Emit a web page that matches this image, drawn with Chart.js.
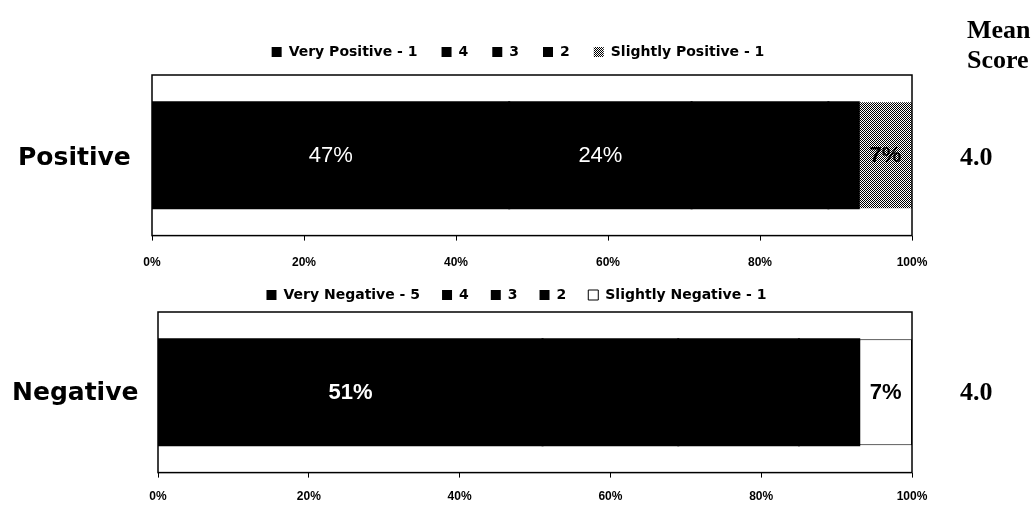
<!DOCTYPE html>
<html lang="en">
  <head>
    <meta charset="UTF-8" />
    <title>Positive / Negative</title>
    <script src="https://cdn.jsdelivr.net/npm/chart.js"></script>
    <style>
      body { margin: 0; background: #fff; width: 1031px; height: 506px; position: relative; overflow: hidden; }
      .wrap { position: absolute; left: 0; width: 1031px; }
      .rowName { position: absolute; font: bold 25px "DejaVu Sans"; color: #000; height: 30px; line-height: 30px; white-space: nowrap; }
      .score { position: absolute; font: bold 26px "Liberation Serif"; color: #000; line-height: 30px; white-space: nowrap; }
    </style>
  </head>
  <body>
    <div class="wrap" style="top: 0; height: 291px"><canvas id="posChart"></canvas></div>
    <div class="wrap" style="top: 250px; height: 270px"><canvas id="negChart"></canvas></div>
    <div class="score" id="meanTitle" style="left: 967px; top: 15px"></div>
    <div class="rowName" id="name0" style="left: 18px; top: 142px"></div>
    <div class="rowName" id="name1" style="left: 12px; top: 377px"></div>
    <div class="score" id="score0" style="left: 960px; top: 142px"></div>
    <div class="score" id="score1" style="left: 960px; top: 377px"></div>

    <script>
      // data
      const rowNames = ["Positive", "Negative"];
      const meanScores = [4.0, 4.0];
      const posCategories = ["Very Positive - 1", "4", "3", "2", "Slightly Positive - 1"];
      const posValues = [47, 24, 18, 4, 7];
      const negCategories = ["Very Negative - 5", "4", "3", "2", "Slightly Negative - 1"];
      const negValues = [51, 18, 16, 8, 7];
      const xTicks = [0, 20, 40, 60, 80, 100];

      document.getElementById("meanTitle").innerHTML = "Mean<br>Score";
      rowNames.forEach((n, i) => {
        document.getElementById("name" + i).textContent = n;
        document.getElementById("score" + i).textContent = meanScores[i].toFixed(1);
      });

      // grainy fill like the scanned "slightly positive" segment
      function dither() {
        const c = document.createElement("canvas");
        c.width = 4;
        c.height = 4;
        const g = c.getContext("2d");
        g.fillStyle = "#fff";
        g.fillRect(0, 0, 4, 4);
        g.fillStyle = "#000";
        for (let y = 0; y < 4; y++)
          for (let x = 0; x < 4; x++) if ((x + y) % 2 === 0) g.fillRect(x, y, 1, 1);
        return g.createPattern(c, "repeat");
      }

      // box round the plot area
      const frame = {
        id: "frame",
        afterDraw(chart) {
          const a = chart.chartArea, ctx = chart.ctx;
          ctx.save();
          ctx.strokeStyle = "#000";
          ctx.lineWidth = 1.5;
          ctx.strokeRect(a.left, a.top, a.right - a.left, a.bottom - a.top);
          ctx.restore();
        },
      };

      // lift the legend a little higher than chart.js puts it
      const legendLift = {
        id: "legendLift",
        afterLayout(chart, args, opts) {
          const lg = chart.legend;
          if (!lg || !opts.by) return;
          lg.top -= opts.by;
          lg.bottom -= opts.by;
        },
      };

      // percent labels: white on the big black pieces, black on the last one
      const barLabels = {
        id: "barLabels",
        afterDatasetsDraw(chart, args, opts) {
          const ctx = chart.ctx;
          const last = chart.data.datasets.length - 1;
          chart.data.datasets.forEach((ds, i) => {
            const v = ds.data[0];
            if (v < 20 && i !== last) return;
            const bar = chart.getDatasetMeta(i).data[0];
            ctx.save();
            ctx.fillStyle = i === last ? "#000" : "#fff";
            ctx.font = (i === last ? "bold " : opts.weight + " ") + "22px 'Liberation Sans'";
            ctx.textAlign = "center";
            ctx.textBaseline = "middle";
            ctx.fillText(v + "%", (bar.x + bar.base) / 2, bar.y + 1);
            ctx.restore();
          });
        },
      };

      function makeChart(id, cats, vals, lastFill, lastBorder, o) {
        const datasets = cats.map((c, i) => ({
          label: c,
          data: [vals[i]],
          backgroundColor: i === cats.length - 1 ? lastFill : "#000",
          borderColor: "#000",
          borderWidth: i === cats.length - 1 ? lastBorder : 0,
          borderSkipped: false,
          inflateAmount: i === cats.length - 1 ? 0 : 1,
          categoryPercentage: 1,
          barPercentage: 0.66,
        }));
        return new Chart(document.getElementById(id), {
          type: "bar",
          data: { labels: [o.name], datasets: datasets },
          options: {
            indexAxis: "y",
            responsive: true,
            maintainAspectRatio: false,
            animation: false,
            layout: { padding: { top: o.padTop, left: o.padLeft, right: 119, bottom: o.padBottom } },
            scales: {
              x: {
                stacked: true,
                min: 0,
                max: 100,
                afterBuildTicks: (s) => { s.ticks = xTicks.map((v) => ({ value: v })); },
                ticks: {
                  padding: o.tickPad,
                  color: "#000",
                  font: { family: "Liberation Sans", weight: "bold", size: 12 },
                  callback: (v) => v + "%",
                },
                grid: { display: true, drawOnChartArea: false, tickLength: 5, color: "#000" },
                border: { display: false },
              },
              y: {
                stacked: true,
                ticks: { display: false },
                grid: { display: false },
                border: { display: false },
                afterFit: (s) => { s.width = o.yWidth; },
              },
            },
            plugins: {
              tooltip: { enabled: false },
              barLabels: { weight: o.labelWeight },
              legendLift: { by: o.lift },
              legend: {
                position: "top",
                labels: {
                  color: "#000",
                  boxWidth: 10,
                  boxHeight: 10,
                  padding: o.legendPad,
                  font: { family: "DejaVu Sans", weight: "bold", size: 14 },
                },
              },
            },
          },
          plugins: [frame, barLabels, legendLift],
        });
      }

      makeChart("posChart", posCategories, posValues, dither(), 0, {
        name: rowNames[0], padTop: 27, padLeft: 124, padBottom: 6, yWidth: 28,
        lift: 6, legendPad: 24, tickPad: 15, labelWeight: "normal",
      });
      makeChart("negChart", negCategories, negValues, "#fff", 1, {
        name: rowNames[1], padTop: 16, padLeft: 121, padBottom: 4, yWidth: 37,
        lift: 0, legendPad: 22, tickPad: 12, labelWeight: "bold",
      });
    </script>
  </body>
</html>
